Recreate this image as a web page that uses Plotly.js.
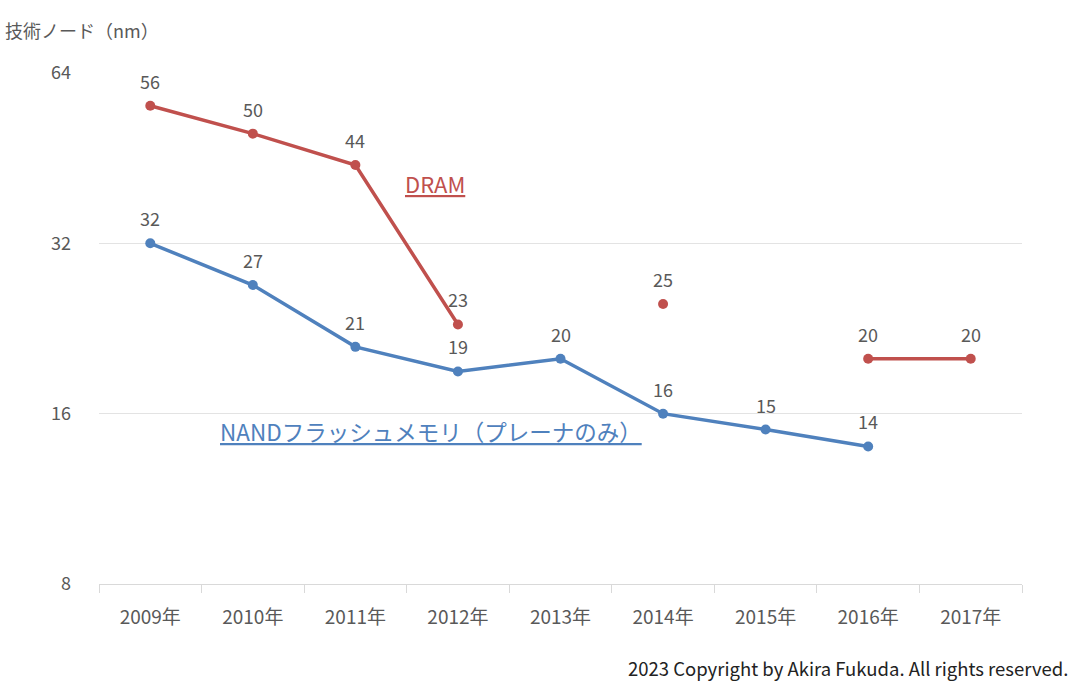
<!DOCTYPE html>
<html>
<head>
<meta charset="utf-8">
<script src="https://cdn.plot.ly/plotly-3.0.1.min.js"></script>
<style>html,body{margin:0;padding:0;background:#fff;}#chart{width:1080px;height:693px;}</style>
</head>
<body>
<div id="chart"></div>
<script>
const years = ["2009年","2010年","2011年","2012年","2013年","2014年","2015年","2016年","2017年"];
const dram = [56, 50, 44, 23, null, 25, null, 20, 20];
const nand = [32, 27, 21, 19, 20, 16, 15, 14, null];
const yTicks = [8, 16, 32, 64];

const FONT = '"Noto Sans CJK JP", "Noto Sans", sans-serif';
const GREY = '#595959';
const RED = '#c0504d';
const BLUE = '#4f81bd';

const traces = [
  {
    x: years, y: dram, type: 'scatter', mode: 'lines+markers',
    name: 'DRAM', connectgaps: false,
    line: {color: RED, width: 3.5},
    marker: {color: RED, size: 10},
    cliponaxis: false, showlegend: false, hoverinfo: 'x+y'
  },
  {
    x: years, y: nand, type: 'scatter', mode: 'lines+markers',
    name: 'NAND', connectgaps: false,
    line: {color: BLUE, width: 3.5},
    marker: {color: BLUE, size: 10},
    cliponaxis: false, showlegend: false, hoverinfo: 'x+y'
  }
];

function dataLabels(arr){
  const out = [];
  arr.forEach((v, i) => {
    if (v === null) return;
    out.push({text: String(v), xref: 'x', yref: 'y', x: i, y: Math.log10(v),
      yshift: 25, showarrow: false, xanchor: 'center', yanchor: 'middle',
      font: {family: FONT, size: 18, color: GREY}});
  });
  return out;
}

const layout = {
  width: 1080, height: 693,
  margin: {l: 99, r: 58, t: 73, b: 109},
  paper_bgcolor: '#fff', plot_bgcolor: '#fff',
  font: {family: FONT, color: GREY, size: 18},
  xaxis: {
    type: 'category', range: [-0.5, 8.5],
    showline: true, linecolor: '#d9d9d9', linewidth: 1,
    ticks: 'outside', tickson: 'boundaries', ticklen: 8, tickcolor: '#d9d9d9',
    showgrid: false, zeroline: false, ticklabelstandoff: 16,
    tickfont: {family: FONT, size: 19, color: GREY},
    fixedrange: true
  },
  yaxis: {
    type: 'log', range: [Math.log10(8), Math.log10(64)],
    tickvals: yTicks, ticktext: yTicks.map(String),
    showgrid: true, gridcolor: '#e3e3e3', gridwidth: 1,
    showline: false, zeroline: false, ticks: '', ticklabelstandoff: 27,
    tickfont: {family: FONT, size: 18, color: GREY},
    fixedrange: true
  },
  annotations: [
    {text: '技術ノード（nm）', xref: 'paper', yref: 'paper', x: -0.104, y: 1.084,
     xanchor: 'left', yanchor: 'middle', showarrow: false,
     font: {family: FONT, size: 18, color: GREY}},
    {text: '<u>DRAM</u>', xref: 'x', yref: 'paper', x: 2.78, y: 0.785,
     xanchor: 'center', yanchor: 'middle', showarrow: false,
     font: {family: FONT, size: 22, color: RED}},
    {text: '<u>NANDフラッシュメモリ（プレーナのみ）</u>', xref: 'x', yref: 'paper', x: 2.74, y: 0.3,
     xanchor: 'center', yanchor: 'middle', showarrow: false,
     font: {family: FONT, size: 22.5, color: BLUE}},
    {text: '2023 Copyright by Akira Fukuda. All rights reserved.', xref: 'paper', yref: 'paper',
     x: 1.052, y: -0.165, xanchor: 'right', yanchor: 'middle', showarrow: false,
     font: {family: FONT, size: 18.5, color: '#222'}}
  ].concat(dataLabels(dram), dataLabels(nand))
};

Plotly.newPlot('chart', traces, layout, {displayModeBar: false, staticPlot: true});
</script>
</body>
</html>
